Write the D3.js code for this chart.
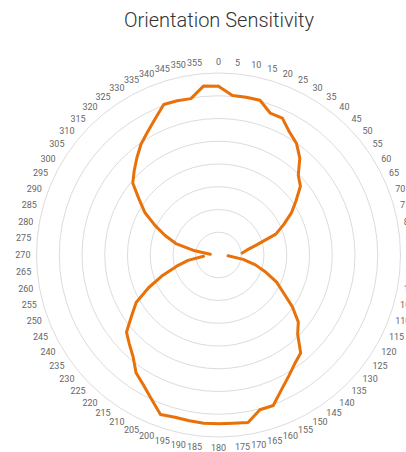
<!DOCTYPE html>
<html><head><meta charset="utf-8">
<script src="https://cdn.jsdelivr.net/npm/d3@7"></script>
<style>html,body{margin:0;padding:0;background:#fff;overflow:hidden}</style>
</head><body><svg id="chart" width="406" height="452"></svg>
<script>
const title = "Orientation Sensitivity";
const angleLabels = [0,5,10,15,20,25,30,35,40,45,50,55,60,65,70,75,80,85,90,95,100,105,110,115,120,125,130,135,140,145,150,155,160,165,170,175,180,185,190,195,200,205,210,215,220,225,230,235,240,245,250,255,260,265,270,275,280,285,290,295,300,305,310,315,320,325,330,335,340,345,350,355];
const sensitivity = [37.1,35.2,35.2,35.2,33.2,33.2,31.2,29.9,27.8,24.8,23.5,20.8,18.5,15.8,13.4,8.8,6.4,5.2,null,2.1,5.5,8.4,11.1,14.1,16.4,19.8,22.9,24.6,28.1,29.2,30.8,32.7,35.2,35.2,37.4,37.1,37.1,37.1,37.0,36.9,37.3,34.9,33.0,31.6,29.2,27.7,26.4,23.3,20.9,16.9,13.0,9.5,6.8,3.3,null,1.8,5.3,9.7,12.5,15.4,18.7,21.3,24.6,26.2,27.9,29.7,31.2,33.0,35.2,35.1,34.9,37.3];
const ringValues = [5,10,15,20,25,30,35,40];

const svg = d3.select("#chart");
const cx = 218.5, cy = 255, R = 182;
const rScale = d3.scaleLinear().domain([0, 40]).range([0, R]);
const aScale = d3.scaleLinear().domain([0, 360]).range([0, 2 * Math.PI]);

svg.append("text").attr("x", 219).attr("y", 27).attr("text-anchor", "middle")
  .attr("font-family", "Roboto, sans-serif").attr("font-weight", 300)
  .attr("font-size", 20).attr("fill", "#333").text(title);

const g = svg.append("g").attr("transform", `translate(${cx},${cy})`);

g.selectAll("circle.ring").data(ringValues).join("circle").attr("class", "ring")
  .attr("r", d => rScale(d)).attr("fill", "none").attr("stroke", "#dcdcdc").attr("stroke-width", 1);

const LR = R + 6;
g.selectAll("text.al").data(angleLabels).join("text").attr("class", "al")
  .each(function(d) {
    const a = aScale(d);
    const x = LR * Math.sin(a), y = -LR * Math.cos(a) - 5 * Math.cos(a);
    const anchor = (d === 0 || d === 180) ? "middle" : (d < 180 ? "start" : "end");
    d3.select(this).attr("x", x).attr("y", y).attr("text-anchor", anchor)
      .attr("dominant-baseline", "central");
  })
  .attr("font-family", "Roboto, sans-serif").attr("font-size", 9).attr("fill", "#666")
  .text(d => d);

const pts = angleLabels.map((a, i) => ({a, v: sensitivity[i]}));
pts.push({a: 360, v: sensitivity[0]});

const line = d3.lineRadial()
  .defined(d => d.v != null)
  .angle(d => aScale(d.a))
  .radius(d => rScale(d.v));

g.append("path").datum(pts).attr("d", line).attr("fill", "none")
  .attr("stroke", "#e8710a").attr("stroke-width", 3)
  .attr("stroke-linejoin", "round").attr("stroke-linecap", "round");
</script></body></html>
